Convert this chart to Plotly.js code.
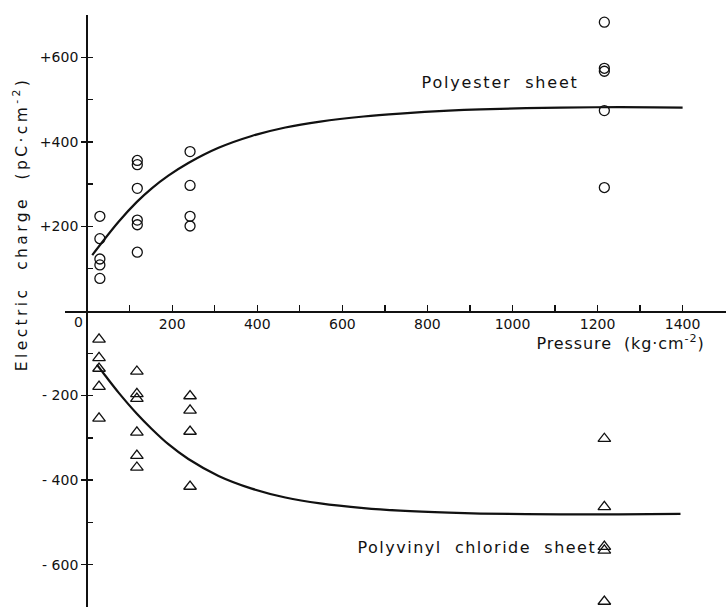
<!DOCTYPE html>
<html>
<head>
<meta charset="utf-8">
<script src="https://cdn.plot.ly/plotly-3.0.1.min.js"></script>
<style>
html,body{margin:0;padding:0;background:#fff;}
.annotation[data-index="0"] text{letter-spacing:1.8px;}
.annotation[data-index="1"] text{letter-spacing:1.5px;}
.annotation[data-index="2"] text{letter-spacing:0.9px;}
.annotation[data-index="3"] text{letter-spacing:3.4px;}
</style>
</head>
<body>
<div id="chart" style="width:726px;height:608px;"></div>
<script>
// Measured points
const polyesterX = [30,30,30,30,30, 118,118,118,118,118,118, 242,242,242,242, 1216,1216,1216,1216,1216];
const polyesterY = [224,171,123,109,77, 356,346,290,215,204,139, 377,297,224,201, 683,574,567,474,292];

const pvcX = [28,28,28,28,28, 117,117,117,117,117,117, 242,242,242,242, 1216,1216,1216,1216,1216];
const pvcY = [-67,-111,-136,-179,-254, -143,-196,-207,-287,-342,-370, -201,-235,-285,-415, -302,-463,-557,-566,-687];

// Fitted curves
const polyCurveX = [12,74,117,152,191,238,309,387,466,548,650,736,850,925,1113,1250,1400];
const polyCurveY = [132,211,258,290,320,350,386,414,434,448,460,467,474,477,481,482,481];

const pvcCurveX = [23,42,74,117,152,191,238,309,387,466,548,650,736,850,925,1113,1250,1395];
const pvcCurveY = [-127,-152,-193,-243,-279,-315,-350,-390,-420,-441,-455,-466,-472,-477,-479,-481,-481,-480];

const xTickVals = [200,400,600,800,1000,1200,1400];
const xTickText = ['200','400','600','800','1000','1200','1400'];
const xMinorVals = [100,300,500,700,900,1100,1300,1500];
const yTickVals = [-600,-400,-200,200,400,600];
const yTickText = ['- 600','- 400','- 200','+200','+400','+600'];
const yInsideVals = [-700,-600,-500,-400,-300,-200,-100,100,200,300,400,500,600,700];

const ink = '#111';
const F = 'DejaVu Sans, sans-serif';

const traces = [
  {x: polyesterX, y: polyesterY, mode:'markers', type:'scatter',
   marker:{symbol:'circle-open', size:10, color:ink, line:{width:1.3, color:ink}}, cliponaxis:false},
  {x: pvcX, y: pvcY, mode:'markers', type:'scatter',
   marker:{symbol:'triangle-up-open', size:11, color:ink, line:{width:1.3, color:ink}}, cliponaxis:false},
  {x: polyCurveX, y: polyCurveY, mode:'lines', type:'scatter',
   line:{color:ink, width:2.2, shape:'spline', smoothing:1}},
  {x: pvcCurveX, y: pvcCurveY, mode:'lines', type:'scatter', yaxis:'y2',
   line:{color:ink, width:2.2, shape:'spline', smoothing:1}}
];

const xRange = [-52, 1502];
const yPos = 52/1554;

const layout = {
  width:726, height:608,
  margin:{l:65, r:0, t:15, b:1},
  paper_bgcolor:'#fff', plot_bgcolor:'#fff',
  showlegend:false,
  font:{family:F, color:ink, size:14},
  xaxis:{
    range:xRange, anchor:'free', position:0.5,
    showline:true, linewidth:1.5, linecolor:ink,
    showgrid:false, zeroline:false,
    tickmode:'array', tickvals:xTickVals, ticktext:xTickText,
    ticks:'inside', ticklen:6, tickwidth:1.3, tickcolor:ink,
    minor:{tickmode:'array', tickvals:xMinorVals, ticks:'inside', ticklen:6, tickwidth:1.3, tickcolor:ink},
    tickfont:{family:F, size:14, color:ink}
  },
  yaxis:{
    range:[-700,700], anchor:'free', position:yPos,
    showline:true, linewidth:2, linecolor:ink,
    showgrid:false, zeroline:false,
    tickmode:'array', tickvals:yTickVals, ticktext:yTickText,
    ticks:'outside', ticklen:5, tickwidth:1.3, tickcolor:ink,
    tickfont:{family:F, size:14, color:ink}
  },
  yaxis2:{
    range:[-700,700], overlaying:'y', anchor:'free', position:yPos, side:'left',
    showline:false, showgrid:false, zeroline:false, showticklabels:false,
    tickmode:'array', tickvals:yInsideVals,
    ticks:'inside', ticklen:5, tickwidth:1.3, tickcolor:ink
  },
  annotations:[
    {text:'Polyester  sheet', x:971, y:541, xref:'x', yref:'y', xanchor:'center', yanchor:'middle',
     showarrow:false, font:{family:F, size:16, color:ink}},
    {text:'Polyvinyl  chloride  sheet', x:917, y:-560, xref:'x', yref:'y', xanchor:'center', yanchor:'middle',
     showarrow:false, font:{family:F, size:16, color:ink}},
    {text:'Pressure  (kg·cm<sup>-2</sup>)', x:1254, y:-75, xref:'x', yref:'y', xanchor:'center', yanchor:'middle',
     showarrow:false, font:{family:F, size:16, color:ink}},
    {text:'Electric  charge  (pC·cm<sup>-2</sup>)', x:-0.066, y:206, xref:'paper', yref:'y', xanchor:'center', yanchor:'middle',
     textangle:-90, showarrow:false, font:{family:F, size:15.5, color:ink}},
    {text:'0', x:-21, y:-25, xref:'x', yref:'y', xanchor:'center', yanchor:'middle',
     showarrow:false, font:{family:F, size:14, color:ink}}
  ]
};

Plotly.newPlot('chart', traces, layout, {displayModeBar:false, staticPlot:true});
</script>
</body>
</html>
